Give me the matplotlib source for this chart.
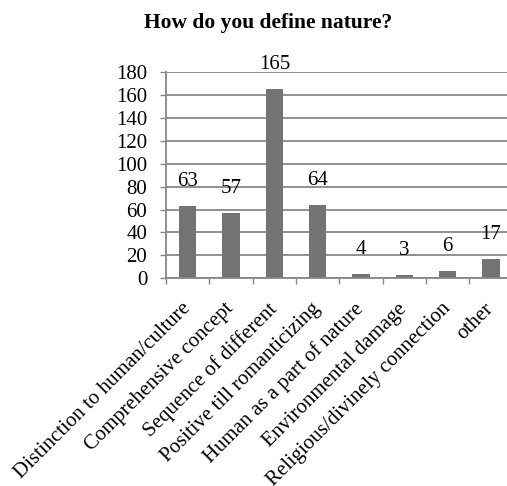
import matplotlib
matplotlib.use("Agg")
import matplotlib.pyplot as plt
import numpy as np

categories = [
    "Distinction to human/culture",
    "Comprehensive concept",
    "Sequence of different",
    "Positive till romanticizing",
    "Human as a part of nature",
    "Environmental damage",
    "Religious/divinely connection",
    "other",
]
counts = [63, 57, 165, 64, 4, 3, 6, 17]
y_ticks = [0, 20, 40, 60, 80, 100, 120, 140, 160, 180]

plt.rcParams["font.family"] = ["Liberation Serif", "DejaVu Serif"]

W, H = 507, 486
fig = plt.figure(figsize=(W / 100, H / 100), dpi=100)

left, right = 166.0, 512.7
top, bottom = 72.0, 278.3
ax = fig.add_axes([left / W, 1 - bottom / H, (right - left) / W, (bottom - top) / H])

grid_c = "#878787"
bar_c = "#737373"
fs = 15

x = np.arange(len(categories))
ax.bar(x, counts, width=0.4, color=bar_c, zorder=3)

ax.set_xlim(-0.5, len(categories) - 0.5)
ax.set_ylim(0, 180)
ax.set_yticks(y_ticks)
ax.set_yticklabels([str(v) for v in y_ticks], fontsize=fs)
ax.yaxis.grid(True, color=grid_c, linewidth=1.3, zorder=0)
ax.set_axisbelow(True)

for s in ["top", "right"]:
    ax.spines[s].set_visible(False)
for s in ["left", "bottom"]:
    ax.spines[s].set_color(grid_c)
    ax.spines[s].set_linewidth(1.3)
    ax.spines[s].set_zorder(4)

ax.tick_params(axis="y", length=4.5, width=1.0, color=grid_c, pad=9, labelsize=fs)

# category boundaries carry the x tick marks; labels sit at centers
ax.set_xticks(np.arange(len(categories)) - 0.5, minor=False)
ax.set_xticklabels([])
ax.tick_params(axis="x", which="major", length=4.5, width=1.0, color=grid_c)
ax.set_xticks(x, minor=True)
ax.set_xticklabels(categories, minor=True, rotation=45, ha="right",
                   rotation_mode="anchor", va="center", fontsize=fs)
ax.tick_params(axis="x", which="minor", length=0, pad=20)

for xi, v in zip(x, counts):
    ax.annotate(str(v), (xi, v), xytext=(0, 14.4), textcoords="offset points",
                ha="center", va="baseline", fontsize=fs)

fig.text(268.5 / W, 1 - 28 / H, "How do you define nature?", ha="center", va="baseline",
         fontsize=15.5, fontweight="bold")

fig.savefig("out.png", dpi=100, facecolor="white")
